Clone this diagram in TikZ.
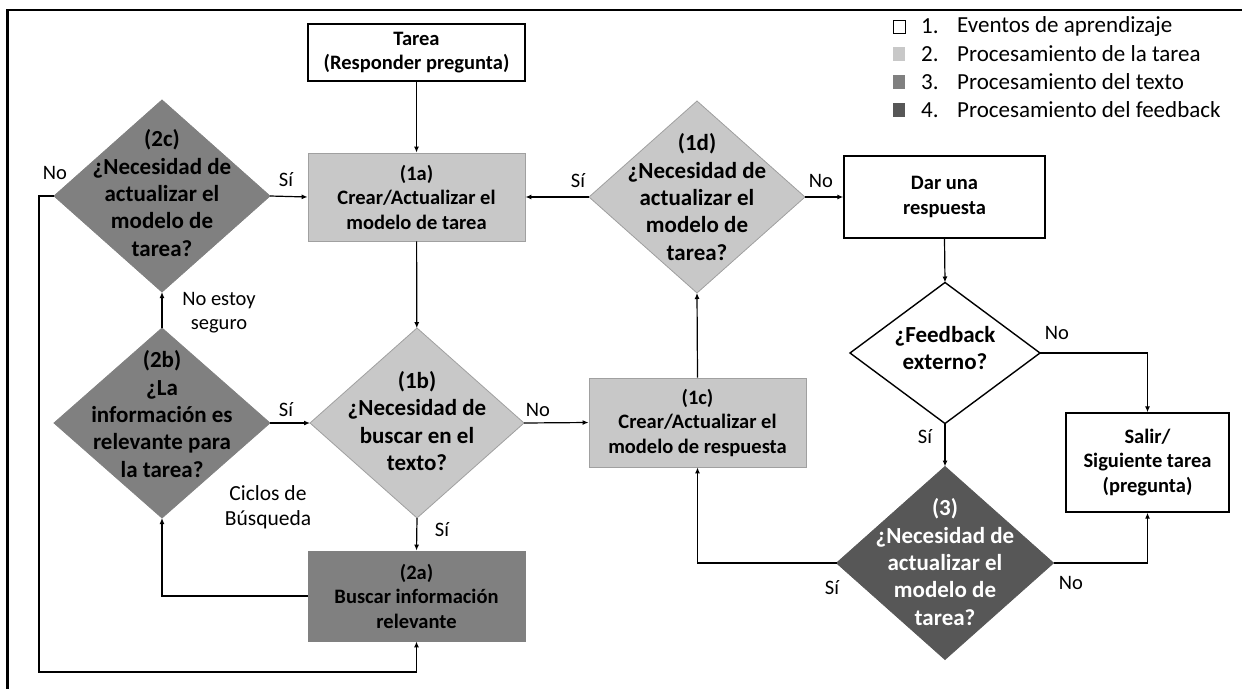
\documentclass[tikz,border=0pt]{standalone}
\usepackage{fontspec}
\setmainfont{Carlito}
\usetikzlibrary{shapes.geometric,arrows.meta}

\definecolor{tareagris}{HTML}{C8C8C8}
\definecolor{textogris}{HTML}{808080}
\definecolor{feedgris}{HTML}{575757}

\begin{document}
\begin{tikzpicture}[x=1pt,y=-1pt,
  caja/.style={rectangle,draw,line width=1.4pt,minimum width=217pt,inner sep=0pt},
  rombo/.style={diamond,inner sep=0pt,outer sep=0pt},
  gtarea/.style={fill=tareagris,draw=tareagris!80!black,line width=0.8pt},
  gtexto/.style={fill=textogris,draw=textogris,line width=0.8pt},
  gfeed/.style={fill=feedgris,draw=feedgris,line width=0.8pt},
  txt/.style={align=center,font=\bfseries\fontsize{20.5}{24.5}\selectfont},
  qtxt/.style={align=center,font=\bfseries\fontsize{23}{27.3}\selectfont},
  lbl/.style={font=\fontsize{20.5}{24}\selectfont,inner sep=0pt},
  flecha/.style={-{Latex[length=6pt,width=5pt]},line width=1.2pt},
  leyenda/.style={font=\fontsize{23}{28}\selectfont,anchor=west,inner sep=0pt}
]
\useasboundingbox (0,0) rectangle (1242,688);
% marco
\draw[line width=2.5pt] (7.5,700) -- (7.5,10) -- (1260,10);

% leyenda
\draw[line width=1pt] (893,20) rectangle (905,33);
\fill[tareagris] (893,47) rectangle (905,61);
\fill[textogris] (893,75) rectangle (905,89);
\fill[feedgris] (893,103) rectangle (905,117);
\node[leyenda] (L1) at (921,26) {1.};
\node[leyenda] (L2) at (921,54) {2.};
\node[leyenda] (L3) at (921,82) {3.};
\node[leyenda] (L4) at (921,110) {4.};
\node[leyenda] (E1) at (957,26) {Eventos de aprendizaje};
\node[leyenda] (E2) at (957,54) {Procesamiento de la tarea};
\node[leyenda] (E3) at (957,82) {Procesamiento del texto};
\node[leyenda] (E4) at (957,110) {Procesamiento del feedback};

% cajas
\node[caja,minimum height=57pt,txt] (T) at (416.5,52.5) {Tarea\\(Responder pregunta)};
\node[caja,gtarea,minimum height=88pt,txt] (A) at (416.5,197) {(1a)\\Crear/Actualizar el\\modelo de tarea};
\node[caja,gtarea,minimum height=89pt,txt] (C) at (697.5,422.5) {(1c)\\Crear/Actualizar el\\modelo de respuesta};
\node[caja,gtexto,minimum height=90pt,txt] (E) at (416.5,596) {(2a)\\Buscar información\\relevante};
\node[caja,minimum width=201pt,minimum height=82pt,txt] (R) at (944.5,197) {Dar una\\respuesta};
\node[caja,minimum width=163pt,minimum height=99pt,txt] (S) at (1147.5,462.5) {Salir/\\Siguiente tarea\\(pregunta)};

% rombos
\node[rombo,gtexto,minimum width=216pt,minimum height=192pt] (G) at (162,196) {};
\node[qtxt] at (162,193) {(2c)\\¿Necesidad de\\actualizar el\\modelo de\\tarea?};
\node[rombo,gtarea,minimum width=216pt,minimum height=192pt] (D) at (697,197) {};
\node[qtxt] at (697,197) {(1d)\\¿Necesidad de\\actualizar el\\modelo de\\tarea?};
\node[rombo,gtexto,minimum width=216pt,minimum height=190pt] (F) at (162,423) {};
\node[qtxt] at (162,414) {(2b)\\¿La\\información es\\relevante para\\la tarea?};
\node[rombo,gtarea,minimum width=214pt,minimum height=190pt] (B) at (417,423) {};
\node[qtxt] at (417,421) {(1b)\\¿Necesidad de\\buscar en el\\texto?};
\node[rombo,draw,line width=1.4pt,fill=white,minimum width=190pt,minimum height=141pt] (K) at (945,353) {};
\node[qtxt] at (945,348) {¿Feedback\\externo?};
\node[rombo,gfeed,minimum width=217pt,minimum height=193pt] (H) at (945,563) {};
\node[qtxt,text=white] at (945,562) {(3)\\¿Necesidad de\\actualizar el\\modelo de\\tarea?};

% conectores
\coordinate (Q) at (39,672);
\draw[flecha] (T) -- (A);
\draw[flecha] (G.east) -- (A.west);
\draw[flecha] (D.west) -- (A.east);
\draw[flecha] (D.east) -- (R.west);
\draw[flecha] (A) -- (B);
\draw[flecha] (F.north) -- (G.south);
\draw[flecha] (F.east) -- (B.west);
\draw[flecha] (B.east) -- (C.west);
\draw[flecha] (B.south) -- (E.north);
\draw[flecha] (E.west) -| (F.south);
\draw[flecha] (G.west) -| (Q) -| (E.south);
\draw[flecha] (C.north) -- (D.south);
\draw[flecha] (R.south) -- (K.north);
\draw[flecha] (K.east) -| (S.north);
\draw[flecha] (K.south) -- (H.north);
\draw[flecha] (H.west) -| (C.south);
\draw[flecha] (H.east) -| (S.south);

% etiquetas
\node[lbl] (l1) at (55,173) {No};
\node[lbl] (l2) at (286,180) {Sí};
\node[lbl] (l3) at (578,181) {Sí};
\node[lbl] (l4) at (821,181) {No};
\node[lbl,align=center] (l5) at (219,313) {No estoy\\seguro};
\node[lbl] (l6) at (286,410) {Sí};
\node[lbl] (l7) at (538,410) {No};
\node[lbl] (l8) at (442,530) {Sí};
\node[lbl,align=center,font=\fontsize{21.5}{25}\selectfont] (l9) at (268,507) {Ciclos de\\Búsqueda};
\node[lbl] (l10) at (1057,333) {No};
\node[lbl] (l11) at (925,437) {Sí};
\node[lbl] (l12) at (832,588) {Sí};
\node[lbl] (l13) at (1071,583) {No};
\end{tikzpicture}
\end{document}
